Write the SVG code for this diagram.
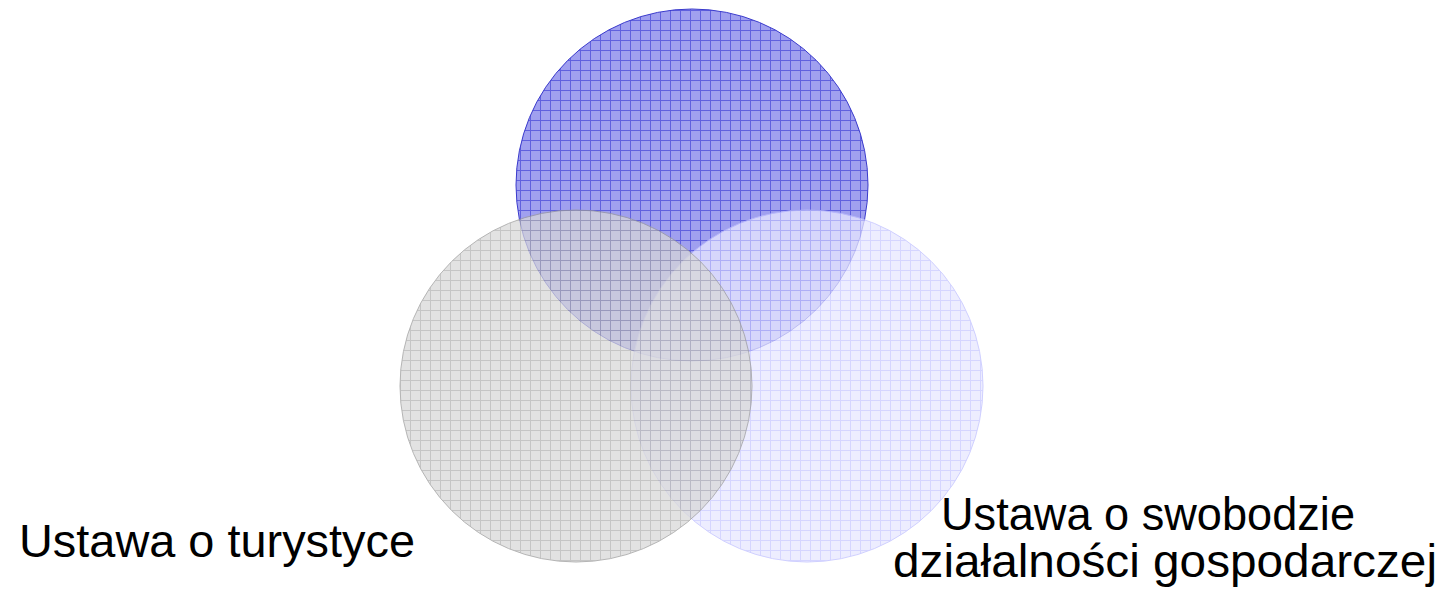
<svg xmlns="http://www.w3.org/2000/svg" width="1445" height="592" viewBox="0 0 1445 592">
<style>
.lbl{font-family:"Liberation Sans",Arial,sans-serif;font-size:47px;fill:#000}
</style>
<defs>
<pattern id="pBlue" width="10" height="10" patternUnits="userSpaceOnUse">
<rect width="10" height="10" fill="#a0a0ef"/>
<path d="M0 0.5H10M0.5 0V10" stroke="#6060de" stroke-width="1"/>
</pattern>
<pattern id="pGrey" width="10" height="10" patternUnits="userSpaceOnUse">
<rect width="10" height="10" fill="#d8d8d8"/>
<path d="M0 0.5H10M0.5 0V10" stroke="#b0b0b0" stroke-width="1"/>
</pattern>
<pattern id="pLight" width="10" height="10" patternUnits="userSpaceOnUse">
<rect width="10" height="10" fill="#e8e8ff"/>
<path d="M0 0.5H10M0.5 0V10" stroke="#c8c8ff" stroke-width="1"/>
</pattern>
</defs>
<g id="circle-top">
<circle cx="692" cy="185" r="176" fill="url(#pBlue)" stroke="#3a3acc" stroke-width="1"/>
</g>
<g id="circle-right" opacity="0.75">
<circle cx="807" cy="386" r="176" fill="url(#pLight)" stroke="#c0c0ff" stroke-width="1"/>
</g>
<g id="circle-left" opacity="0.72">
<circle cx="576" cy="386" r="176" fill="url(#pGrey)" stroke="#999999" stroke-width="1"/>
</g>
<g id="connectors"></g>
<g id="label-left">
<text class="lbl" x="19" y="557" textLength="396" lengthAdjust="spacingAndGlyphs">Ustawa o turystyce</text>
</g>
<g id="label-right">
<text class="lbl"><tspan x="941" y="530" textLength="414" lengthAdjust="spacingAndGlyphs">Ustawa o swobodzie</tspan><tspan x="893" y="577" textLength="544" lengthAdjust="spacingAndGlyphs">działalności gospodarczej</tspan></text>
</g>
</svg>
